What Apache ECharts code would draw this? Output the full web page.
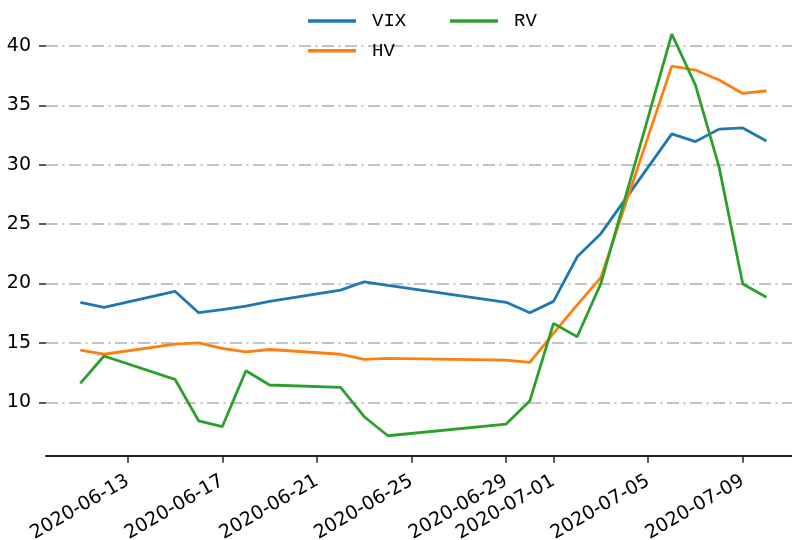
<!DOCTYPE html>
<html>
<head>
<meta charset="utf-8">
<script src="https://cdn.jsdelivr.net/npm/echarts@6/dist/echarts.min.js"></script>
<style>
html,body{margin:0;padding:0;background:#fff;}
#chart{width:792px;height:540px;}
</style>
</head>
<body>
<div id="chart"></div>
<script>
const dates = ['2020-06-11','2020-06-12','2020-06-15','2020-06-16','2020-06-17','2020-06-18','2020-06-19','2020-06-22','2020-06-23','2020-06-24','2020-06-29','2020-06-30','2020-07-01','2020-07-02','2020-07-03','2020-07-06','2020-07-07','2020-07-08','2020-07-09','2020-07-10'];
const vix = [18.42,18.0,19.35,17.55,17.8,18.1,18.5,19.45,20.15,19.85,18.42,17.55,18.5,22.25,24.2,32.6,31.95,33.0,33.1,32.0];
const hv = [14.4,14.05,14.9,15.0,14.55,14.25,14.45,14.05,13.62,13.7,13.56,13.37,15.8,18.2,20.5,38.3,37.97,37.13,36.0,36.23];
const rv = [11.6,13.9,11.94,8.45,7.95,12.66,11.46,11.26,8.79,7.19,8.17,10.13,16.65,15.52,20.0,41.0,36.7,29.8,19.96,18.84];
const xTickLabels = ['2020-06-13','2020-06-17','2020-06-21','2020-06-25','2020-06-29','2020-07-01','2020-07-05','2020-07-09'];
const yTickLabels = [10,15,20,25,30,35,40];

const t = s => echarts.time.parse(s).getTime();
const DAY = 86400000;
const pairs = arr => dates.map((d, i) => [t(d), arr[i]]);
const xTicks = xTickLabels.map(t);

const chart = echarts.init(document.getElementById('chart'), null, {renderer: 'canvas'});
const legendText = {fontFamily: 'Liberation Mono', fontSize: 19, color: '#000', lineHeight: 20, padding: [0, 0, 0, 11]};
chart.setOption({
  animation: false,
  backgroundColor: '#fff',
  color: ['#1f77b4', '#ff7f0e', '#2ca02c'],
  grid: {left: 46, right: 0, top: 14, bottom: 84.3, containLabel: false, outerBoundsMode: 'none'},
  legend: [
    {data: ['VIX', 'HV'], orient: 'vertical', left: 308, top: 11, padding: 0, itemGap: 9.7,
     icon: 'rect', itemWidth: 48, itemHeight: 3.5, textStyle: legendText, selectedMode: false},
    {data: ['RV'], orient: 'vertical', left: 450, top: 11, padding: 0, itemGap: 9.7,
     icon: 'rect', itemWidth: 48, itemHeight: 3.5, textStyle: legendText, selectedMode: false}
  ],
  xAxis: {
    type: 'value',
    min: t(dates[0]) - 1.45 * DAY,
    max: t(dates[dates.length - 1]) + 1.08 * DAY,
    axisLine: {show: true, lineStyle: {color: '#222', width: 2}},
    axisTick: {show: true, length: 7, lineStyle: {color: '#222', width: 1.5}, customValues: xTicks},
    axisLabel: {
      customValues: xTicks, rotate: 30, margin: 24, hideOverlap: false,
      fontFamily: 'DejaVu Sans', fontSize: 19, color: '#000',
      formatter: v => echarts.time.format(v, '{yyyy}-{MM}-{dd}', false)
    },
    splitLine: {show: false}
  },
  yAxis: {
    type: 'value',
    min: 5.51, max: 42.69, splitNumber: 7,
    axisLine: {show: false},
    axisTick: {show: true, length: 7, lineStyle: {color: '#222', width: 1.5}, customValues: yTickLabels},
    axisLabel: {customValues: yTickLabels, margin: 15, fontFamily: 'DejaVu Sans', fontSize: 19, color: '#000'},
    splitLine: {show: true, showMinLine: true, showMaxLine: true,
      lineStyle: {color: '#b0b0b0', width: 1.5, type: [12, 4.5, 2, 4.5]}}
  },
  series: [
    {name: 'VIX', type: 'line', data: pairs(vix), showSymbol: false, symbol: 'none', lineStyle: {width: 2.8}},
    {name: 'HV', type: 'line', data: pairs(hv), showSymbol: false, symbol: 'none', lineStyle: {width: 2.8}},
    {name: 'RV', type: 'line', data: pairs(rv), showSymbol: false, symbol: 'none', lineStyle: {width: 2.8}}
  ]
});
</script>
</body>
</html>
